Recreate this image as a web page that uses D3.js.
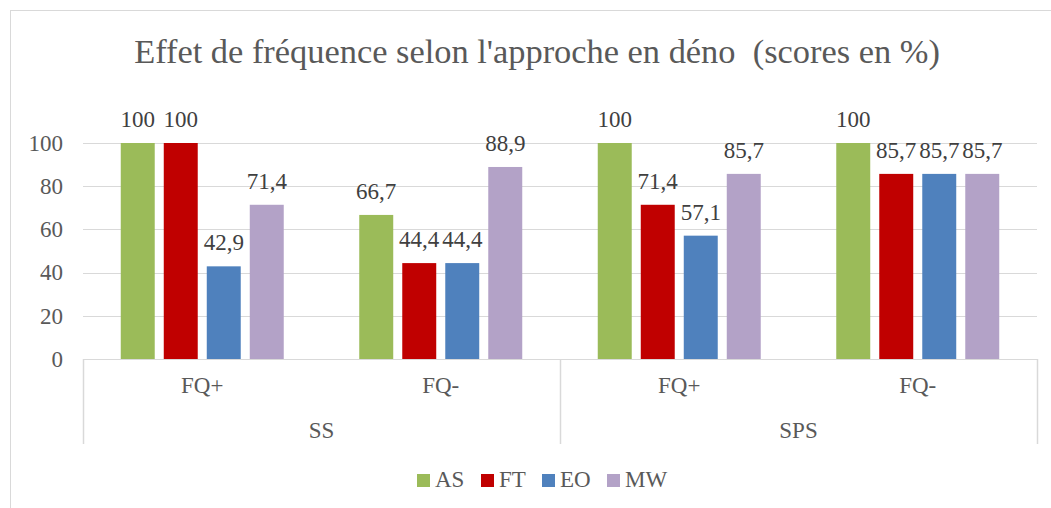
<!DOCTYPE html>
<html>
<head>
<meta charset="utf-8">
<script src="https://cdn.jsdelivr.net/npm/d3@7"></script>
</head>
<body style="margin:0; background:#fff">
<div id="chart"></div>
<script>
// data
const groups = ["SS", "SPS"];
const subcats = ["FQ+", "FQ-"];
const series = ["AS", "FT", "EO", "MW"];
const colors = ["#9BBB59", "#C00000", "#4F81BD", "#B3A2C7"];
const AS = [100, 66.7, 100, 100];
const FT = [100, 44.4, 71.4, 85.7];
const EO = [42.9, 44.4, 57.1, 85.7];
const MW = [71.4, 88.9, 85.7, 85.7];
const yTicks = [0, 20, 40, 60, 80, 100];

const serif = "'Liberation Serif', 'Times New Roman', serif";
const W = 1051, H = 508;
const margin = {top: 143, right: 14, bottom: 149, left: 83},
    width = W - margin.left - margin.right,
    height = H - margin.top - margin.bottom;

const svg = d3.select("#chart")
  .append("svg")
    .attr("width", W)
    .attr("height", H);

// chart border
svg.append("rect")
  .attr("x", 10.5).attr("y", 10.5)
  .attr("width", W).attr("height", H)
  .attr("fill", "none")
  .attr("stroke", "#d9d9d9");

// title
svg.append("text")
  .attr("x", 537).attr("y", 63)
  .attr("text-anchor", "middle")
  .attr("fill", "#595959")
  .style("font-family", serif)
  .style("font-size", "34.4px")
  .text("Effet de fréquence selon l'approche en déno\u00a0 (scores en %)");

const g = svg.append("g")
  .attr("transform", `translate(${margin.left},${margin.top})`);

// categories: each group x each subcat
const cats = [];
groups.forEach(gr => subcats.forEach(s => cats.push(gr + "|" + s)));

const x0 = d3.scaleBand()
  .domain(cats)
  .range([0, width])
  .paddingInner(0.3166)
  .paddingOuter(0.1583);

const x1 = d3.scaleBand()
  .domain(series)
  .range([0, x0.bandwidth()])
  .paddingInner(0.21);

const y = d3.scaleLinear()
  .domain([0, 100])
  .range([height, 0]);

// gridlines
g.selectAll(".grid")
  .data(yTicks.filter(t => t > 0))
  .join("line")
    .attr("x1", 0).attr("x2", width)
    .attr("y1", d => Math.round(y(d)) + 0.5)
    .attr("y2", d => Math.round(y(d)) + 0.5)
    .attr("stroke", "#d9d9d9");

// y axis labels
g.selectAll(".ytick")
  .data(yTicks)
  .join("text")
    .attr("x", -20)
    .attr("y", d => y(d))
    .attr("dy", "0.34em")
    .attr("text-anchor", "end")
    .attr("fill", "#595959")
    .style("font-family", serif)
    .style("font-size", "23px")
    .text(d => d);

// bars
const valuesBySeries = [AS, FT, EO, MW];
const rows = [];
series.forEach((s, i) => {
  cats.forEach((c, j) => rows.push({s: s, c: c, v: valuesBySeries[i][j], color: colors[i]}));
});

g.selectAll(".bar")
  .data(rows)
  .join("rect")
    .attr("x", d => x0(d.c) + x1(d.s))
    .attr("y", d => y(d.v))
    .attr("width", x1.bandwidth())
    .attr("height", d => height - y(d.v))
    .attr("fill", d => d.color);

// data labels
g.selectAll(".lbl")
  .data(rows)
  .join("text")
    .attr("x", d => x0(d.c) + x1(d.s) + x1.bandwidth() / 2)
    .attr("y", d => y(d.v) - 16)
    .attr("text-anchor", "middle")
    .attr("fill", "#404040")
    .style("font-family", serif)
    .style("font-size", "23px")
    .text(d => String(d.v).replace(".", ","));

// x axis line
g.append("line")
  .attr("x1", 0).attr("x2", width)
  .attr("y1", height + 0.5).attr("y2", height + 0.5)
  .attr("stroke", "#d9d9d9");

// group separators
const step = x0.step();
const sepX = [0, 2 * step, 4 * step].map(v => Math.min(v, width));
g.selectAll(".sep")
  .data(sepX)
  .join("line")
    .attr("x1", d => Math.round(d) + 0.5).attr("x2", d => Math.round(d) + 0.5)
    .attr("y1", height).attr("y2", height + 85)
    .attr("stroke", "#d9d9d9")
    .attr("stroke-width", 1.5);

// sub-category labels
g.selectAll(".sub")
  .data(cats)
  .join("text")
    .attr("x", d => x0(d) + x0.bandwidth() / 2)
    .attr("y", height + 34)
    .attr("text-anchor", "middle")
    .attr("fill", "#595959")
    .style("font-family", serif)
    .style("font-size", "23px")
    .text(d => d.split("|")[1]);

// group labels
g.selectAll(".grp")
  .data(groups)
  .join("text")
    .attr("x", (d, i) => (2 * i + 1) * step)
    .attr("y", height + 79)
    .attr("text-anchor", "middle")
    .attr("fill", "#595959")
    .style("font-family", serif)
    .style("font-size", "23px")
    .text(d => d);

// legend
const legendX = [417, 481, 542, 607];
const legend = svg.append("g");
series.forEach((s, i) => {
  legend.append("rect")
    .attr("x", legendX[i]).attr("y", 474)
    .attr("width", 13).attr("height", 13)
    .attr("fill", colors[i]);
  legend.append("text")
    .attr("x", legendX[i] + 18).attr("y", 487)
    .attr("fill", "#595959")
    .style("font-family", serif)
    .style("font-size", "23px")
    .text(s);
});
</script>
</body>
</html>
